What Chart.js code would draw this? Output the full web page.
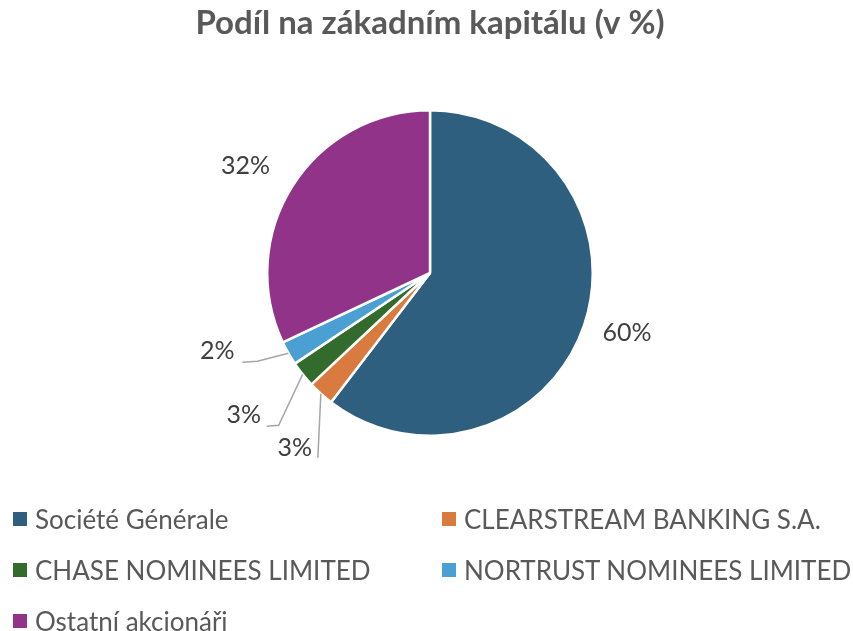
<!DOCTYPE html>
<html>
<head>
<meta charset="utf-8">
<script src="https://cdn.jsdelivr.net/npm/chart.js@4.4.0/dist/chart.umd.min.js"></script>
<style>
body { margin: 0; background: #fff; }
#wrap { position: relative; width: 853px; height: 631px; }
#legend {
    position: absolute; left: 13px; top: 493px;
    display: grid; grid-template-columns: 429px auto; grid-auto-rows: 51px;
    font-family: Lato, sans-serif; font-size: 26px; color: #595959;
}
#legend div { display: flex; align-items: center; white-space: nowrap; }
#legend span.box { width: 14px; height: 14px; margin-right: 8px; display: inline-block; }
</style>
</head>
<body>
<div id="wrap">
    <canvas id="myChart" width="853" height="631"></canvas>
    <div id="legend"></div>
</div>
<script>
const labels = ['Société Générale', 'CLEARSTREAM BANKING S.A.', 'CHASE NOMINEES LIMITED', 'NORTRUST NOMINEES LIMITED', 'Ostatní akcionáři'];
const shares = [60.4, 2.6, 2.6, 2.4, 32.0];
const colors = ['#2E5F7F', '#D97A3F', '#336B2D', '#4A9FD3', '#913489'];

// label placement relative to the outer middle of each slice
const callouts = [
    { text: [43, 8] },
    { text: [-26, 54], line: [[-3, 64]] },
    { text: [-59, 41], line: [[-24, 51], [-36, 52]] },
    { text: [-71, -2], line: [[-31, 8], [-46, 9]] },
    { text: [-47, -20] }
];

const calloutPlugin = {
    id: 'callouts',
    afterDatasetsDraw(chart) {
        const ctx = chart.ctx;
        const arcs = chart.getDatasetMeta(0).data;
        ctx.save();
        arcs.forEach((arc, i) => {
            const c = callouts[i];
            const mid = (arc.startAngle + arc.endAngle) / 2;
            const ax = arc.x + Math.cos(mid) * arc.outerRadius;
            const ay = arc.y + Math.sin(mid) * arc.outerRadius;
            if (c.line) {
                ctx.strokeStyle = '#A6A6A6';
                ctx.lineWidth = 1.5;
                ctx.beginPath();
                ctx.moveTo(ax, ay);
                c.line.forEach(p => ctx.lineTo(ax + p[0], ay + p[1]));
                ctx.stroke();
            }
            ctx.fillStyle = '#404040';
            ctx.font = '25px Lato';
            ctx.textAlign = 'center';
            ctx.textBaseline = 'middle';
            ctx.fillText(Math.round(shares[i]) + '%', ax + c.text[0], ay + c.text[1]);
        });
        ctx.restore();
    }
};

const ctx = document.getElementById('myChart').getContext('2d');
let chart = new Chart(ctx, {
    type: 'pie',
    data: {
        labels: labels,
        datasets: [{
            data: shares,
            backgroundColor: colors,
            borderColor: '#ffffff',
            borderWidth: 2.5,
            hoverOffset: 0
        }]
    },
    options: {
        responsive: false,
        animation: false,
        layout: { padding: { left: 7, right: 0, top: 0, bottom: 194 } },
        plugins: {
            legend: { display: false },
            tooltip: { enabled: false },
            title: {
                display: true,
                text: 'Podíl na zákadním kapitálu (v %)',
                color: '#595959',
                font: { family: 'Lato', size: 33, weight: 'bold' },
                padding: { top: 4, bottom: 65.4 }
            }
        }
    },
    plugins: [calloutPlugin]
});

const legend = document.getElementById('legend');
labels.forEach((name, i) => {
    const item = document.createElement('div');
    item.innerHTML = '<span class="box" style="background:' + colors[i] + '"></span>' + name;
    legend.appendChild(item);
});
</script>
</body>
</html>
